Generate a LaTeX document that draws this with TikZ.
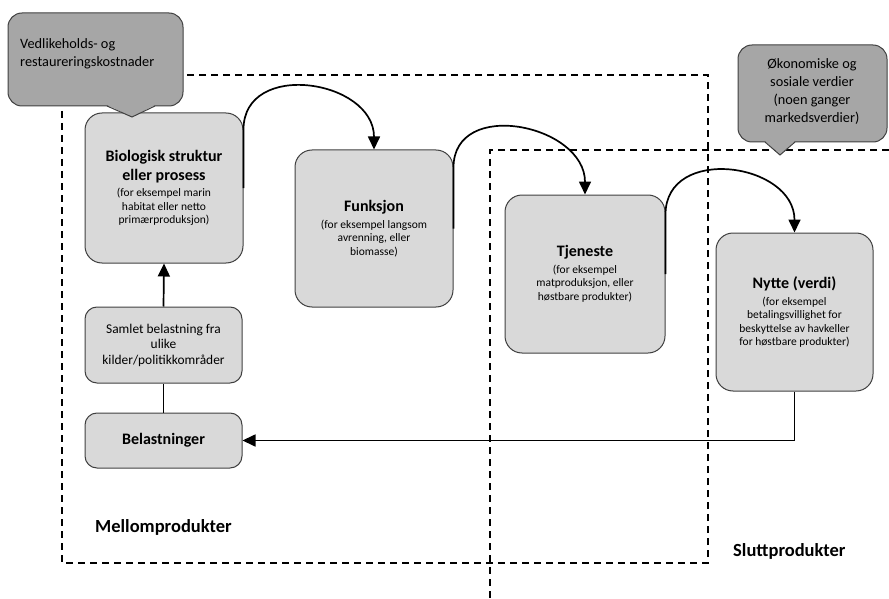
\documentclass[tikz,border=0pt]{standalone}
\usepackage{fontspec}
\setmainfont{Carlito}
\usetikzlibrary{arrows.meta,calc}
\definecolor{boxfill}{HTML}{D9D9D9}
\definecolor{callfill}{HTML}{A6A6A6}
\definecolor{edgecol}{HTML}{404040}
\newcommand{\ttlfont}{\fontsize{16}{18}\selectfont\bfseries}
\tikzset{
  procbox/.style={draw=edgecol, line width=1pt, fill=boxfill, rounded corners=17pt,
    align=center, inner sep=2pt, font=\fontsize{11.5}{13.5}\selectfont},
  callbox/.style={draw=edgecol, line width=1pt, fill=callfill, rounded corners=14pt},
  arr/.style={line width=1.7pt, -{Triangle[length=13pt,width=12pt]}},
  conn/.style={line width=1.7pt},
  zone/.style={dash pattern=on 7pt off 5pt, line width=1.7pt},
  zonelabel/.style={font=\fontsize{18.5}{20}\selectfont\bfseries, inner sep=0pt},
  calltext/.style={font=\fontsize{14.3}{18}\selectfont, inner sep=0pt},
}
\begin{document}
\begin{tikzpicture}[x=1pt,y=-1pt]
\useasboundingbox (0,0) rectangle (889,599);
% zones
\draw[zone] (62,75) rectangle (708,563);
\draw[zone] (889,150) -- (490,150) -- (490,599);
\node[zonelabel, anchor=west] (mel) at (95,527) {Mellomprodukter};
\node[zonelabel, anchor=west] (slu) at (733,551) {Sluttprodukter};
% boxes
\node[procbox, minimum width=158pt, minimum height=150pt] (bio) at (164,188)
  {{\ttlfont Biologisk struktur}\\[4pt]{\ttlfont eller prosess}\\[3pt](for eksempel marin\\habitat eller netto\\primærproduksjon)};
\node[procbox, minimum width=158pt, minimum height=157pt] (fun) at (374,228.5)
  {{\ttlfont Funksjon}\\[3pt](for eksempel langsom\\avrenning, eller\\biomasse)};
\node[procbox, minimum width=160pt, minimum height=158pt] (tje) at (585,274)
  {{\ttlfont Tjeneste}\\[3pt](for eksempel\\matproduksjon, eller\\høstbare produkter)};
\node[procbox, minimum width=157pt, minimum height=158pt] (nyt) at (794.5,312)
  {{\ttlfont Nytte (verdi)}\\[3pt](for eksempel\\betalingsvillighet for\\beskyttelse av havkeller\\for høstbare produkter)};
\node[procbox, rounded corners=12pt, minimum width=157pt, minimum height=76pt, font=\fontsize{13.4}{15.5}\selectfont] (sam) at (163.5,345)
  {Samlet belastning fra\\ulike\\kilder/politikkområder};
\node[procbox, rounded corners=12pt, minimum width=157pt, minimum height=55pt] (bel) at (163.5,440.5)
  {{\ttlfont Belastninger}};
% connectors
\draw[arr] (sam.north) -- (bio.south);
\draw[conn] (bel.north) -- (sam.south);
\draw[arr] (nyt.south) |- (bel.east);
\draw[arr] (bio.east) -- ($(bio.east|-fun.north)+(0,-20)$) .. controls +(0,-70) and +(0,-70) .. (fun.north);
\draw[arr] (fun.east) -- ($(fun.east|-tje.north)+(0,-27)$) .. controls +(0,-70) and +(0,-70) .. (tje.north);
\draw[arr] (tje.east) -- ($(tje.east|-nyt.north)+(0,-18)$) .. controls +(0,-70) and +(0,-70) .. (nyt.north);
% callout 1
\path[callbox] (8,13) rectangle (183,106);
\fill[callfill] (107,105) -- (132,117) -- (155,105) -- cycle;
\draw[edgecol, line width=1pt] (107,106) -- (132,117) -- (155,106);
\node[calltext, anchor=west, align=left] (c1) at (20,54) {Vedlikeholds- og\\restaureringskostnader};
% callout 2
\path[callbox] (738,45) rectangle (887,142);
\fill[callfill] (765,141) -- (780,155) -- (795,141) -- cycle;
\draw[edgecol, line width=1pt] (765,142) -- (780,155) -- (795,142);
\node[calltext, align=center] (c2) at (812,92) {Økonomiske og\\sosiale verdier\\(noen ganger\\markedsverdier)};
\end{tikzpicture}
\end{document}
